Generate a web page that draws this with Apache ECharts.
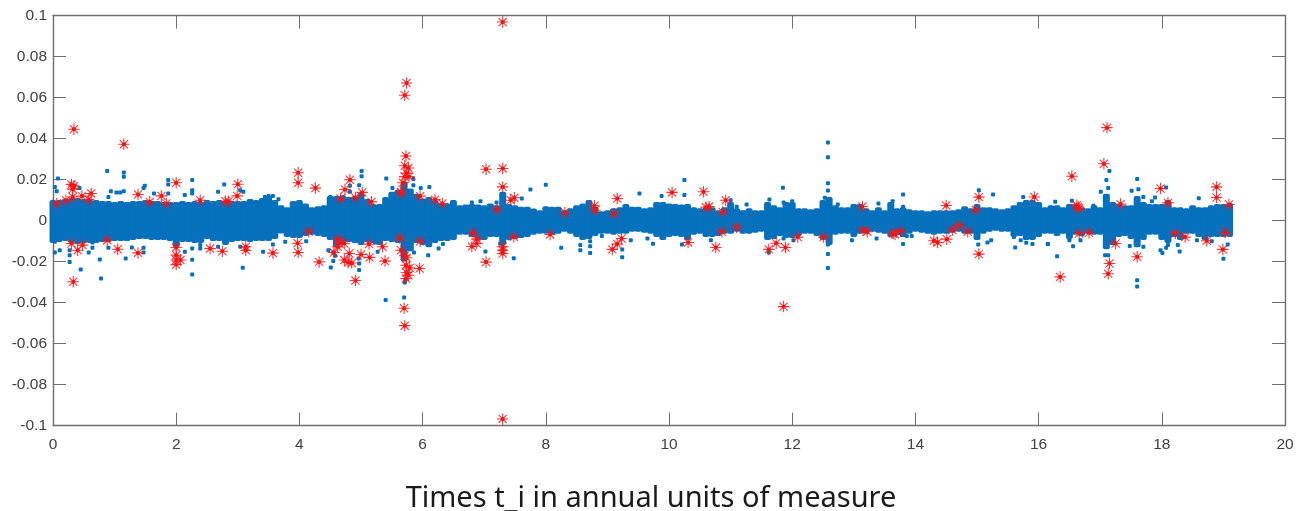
<!DOCTYPE html>
<html>
<head>
<meta charset="utf-8">
<style>html,body{margin:0;padding:0;background:#fff}#c{width:1305px;height:511px}</style>
<script src="https://cdn.jsdelivr.net/npm/echarts@6/dist/echarts.min.js"></script>
</head>
<body>
<div id="c"></div>
<script>
const xLabelStep = 2;
const yLabelStep = 0.02;
const chartCaption = 'Times t_i in annual units of measure';

// sampled envelope of the dense blue mass, one sample per 0.1 year, in thousandths
const bandUpper = [
10,10,10.5,11,11,10.5,10,10,9.5,9.5,
9,9.5,9,9.5,9.5,10,9.5,9.5,9,9,
9,9.5,9,9.5,9,10,9.5,10,9.5,9.5,
9.5,9.5,10.5,10,11,12,10,7.5,6.5,9.5,
10,8.3,6.5,7,7.5,12,12,12.3,11.5,12,
13.5,10.5,8,8,11.5,14,15,19,15.6,13,
10.7,11.5,10,8.3,8.3,10,7.5,7.8,8,7.8,
7.5,8.3,7.5,14,8,7.5,6.7,6.7,5.9,5,
7,6.7,6.7,5,6,7.5,8.3,10,6.7,4.5,
5,6,6.5,8,6.7,6.7,6,6.5,9,9,
8.3,8,7.8,8,6.5,6,6.5,6.5,5,6.5,
9,6,5,6,5,5,9,7.5,6.5,9,
9,6,6,5.5,6,10,11.5,7.5,6.5,6.5,
8,8,6,5,6.5,5,9,6,6.5,5.5,
5,5,4.5,5,5,5,5,5.5,7,6,
8,6.5,6.5,6,5.5,6,7.5,9,10,10,
9,6.5,7.5,7.5,6.5,8,8,6.5,6,7.5,
6.5,13,9,8,7.5,7.5,12,9,8,8,
8,10,6.5,6.5,6,7.5,6.5,6.5,7.5,8,
8,8.5];
const bandLower = [
11,10.5,10,11,11.5,11,11,11,10.5,10.5,
10,10,10,9.5,9,9,9.5,9.5,9.5,10,
13,10.5,10.5,11,11,9,10,10,12,10.5,
10,10,10.5,10,10,10,9,6.3,8,8.5,
8.5,7.5,7,7.5,8,9.5,13,12,10.5,11,
12,10.5,11,12,10,10.5,11,20,15,11,
12,13,11,10,10,9.5,7,7,8,9.5,
9.5,8,8,12,9.5,9,8.5,8,7,6.5,
6.5,7,6.5,5.5,6.5,8,9.5,9,7.5,6.5,
6.5,7,6.5,6.5,5.5,5.5,6,6.5,8,9.5,
8,7.5,8,9.5,7,6.5,8,8,7.5,6.5,
6.5,5.5,6.5,6.5,6,5.5,9.5,9,7.5,8.5,
8.5,7.5,6.5,6.5,7.5,9.5,12,7,6.5,6.5,
8,6.5,6.5,5.5,6,6.5,8,7,8,6.5,
5.5,6,6.5,7,6.5,6.5,6,5.5,6.5,6.5,
9.5,6.5,5.5,5,5.5,5.5,8,7.5,9.5,9.5,
8,6.5,6.5,7.5,6.5,9,7,7.5,6.5,7,
7,14,12,8,7.5,9,13,9.5,7,7,
9.5,11,8,9.5,6.5,6.5,8,9.5,8,8,
8,8];

// isolated blue points
const blueTimes = [
.88,1.15,1.15,.08,.03,.43,.06,.94,1.03,1.09,1.15,.90,1.49,1.47,1.87,1.87,2.26,1.64,1.87,2.26,2.26,2.14,2.78,2.68,3.04,3.09,
.03,.11,.03,.27,.27,.27,.64,.58,.64,.45,.76,.78,1.18,.90,1.28,1.47,1.47,2.26,2.26,2.14,2.26,2.39,2.39,3.08,2.68,3.04,
5.01,5.01,5.41,4.82,4.97,5.51,5.97,6.11,5.85,5.85,3.44,3.5,3.57,3.66,4.5,4.82,
3.41,3.57,3.77,4.11,4.47,4.55,4.51,4.55,4.58,4.97,4.96,4.97,5.27,5.23,5.71,6.09,6.26,6.33,5.86,5.40,5.70,5.72,5.74,
7.75,8.0,9.52,6.8,6.94,7.2,7.61,7.02,7.48,8.25,8.56,8.56,8.72,8.72,8.72,9.24,9.24,8.91,9.65,9.38,7.26,
10.25,10.25,9.88,11.85,11.86,12.0,11.63,12.58,12.58,12.58,12.58,12.53,11.26,11.1,11.0,12.74,
9.74,10.21,10.68,11.62,12.58,12.58,12.58,11.86,12.02,
13.8,15.03,15.26,13.4,13.63,13.8,15.75,13.8,13.37,13.86,13.94,12.97,15.02,15.17,15.23,15.62,15.71,15.8,15.9,16.15,15.6,
17.15,17.1,17.01,17.13,17.6,17.51,17.62,17.89,17.84,18.6,18.07,16.54,16.27,16.89,17.7,
16.15,16.3,16.56,16.5,16.68,17.08,17.13,17.48,17.6,17.6,17.7,17.98,18.01,18.07,18.1,18.26,18.29,19.0,19.07,18.57,18.81];
const blueValues = [
.0241,.0234,.0213,.0205,.0164,.0159,.0143,.0143,.0137,.0137,.0143,.0115,.0169,.0159,.0197,.0176,.0198,.0132,.0132,.0148,.0132,.0124,.0176,.014,.0148,.014,
-.0104,-.0145,-.0156,-.0145,-.0169,-.0203,-.0107,-.0156,-.0133,-.0239,-.019,-.0283,-.0185,-.0133,-.0132,-.0133,-.0156,-.0192,-.0263,-.0153,-.0137,-.0137,-.012,-.0231,-.0128,-.0128,
.0241,.0216,.0205,.0169,.0172,.0159,.0159,.0164,.0172,.0202,.0115,.012,.012,.0104,.0115,.014,
-.0153,-.0117,-.0104,-.0101,-.0145,-.0156,-.0229,-.0197,-.0172,-.0242,-.0185,-.021,-.0153,-.0107,-.0302,-.0169,-.0137,-.0115,-.0156,-.0388,-.0376,-.029,-.026,
.0151,.0174,.0132,.0088,.0094,.0088,.0107,-.0151,-.0184,-.0133,-.012,-.0145,-.0125,-.0158,-.0101,-.0141,-.0179,-.0075,-.0088,-.0096,-.0114,
.0197,.0124,.012,.016,.0088,.0094,.0102,.038,.0308,.0182,.0146,.0111,.0078,.0067,.0099,.0078,
-.0114,-.0117,-.0096,-.0156,-.0117,-.0163,-.0232,-.0088,-.0096,
.0127,.0148,.0127,.0083,.0094,.0067,.0115,-.0115,-.0088,-.0075,-.0075,-.0096,-.0117,-.0107,-.0096,-.0132,-.0096,-.0109,-.0115,-.0115,-.008,
.0241,.0197,.014,.0159,.0203,.0145,.0153,.0112,.0094,.0109,.0161,.0096,.0091,.0072,.0115,
-.0115,-.0174,-.0125,-.0096,-.0096,-.0169,-.0169,-.0124,-.0291,-.0322,-.0128,-.0145,-.0158,-.0133,-.012,-.012,-.0151,-.0187,-.0117,-.0096,-.0101];

// red starred points
const redTimes = [
.30,.34,.32,.06,.21,.32,.47,.58,.62,.33,.30,.48,.40,.88,1.05,1.38,1.38,1.57,1.76,1.84,2.0,2.39,2.80,2.85,3.0,2.99,
2.0,2,2,2.07,2.0,2.55,2.75,3.13,3.13,.34,1.15,
3.98,3.98,4.26,4.74,4.82,4.67,4.91,5.02,5.17,5.65,5.96,6.2,6.32,
5.73,5.71,5.77,5.74,5.78,5.68,5.65,5.71,5.74,5.71,
4.15,3.97,3.98,3.57,4.32,4.63,4.65,4.73,4.62,4.56,5.13,5.35,5.14,5,4.81,5.39,4.73,4.79,4.85,4.91,
5.63,5.65,5.71,5.74,5.73,5.79,5.95,5.74,5.77,5.73,5.96,5.70,5.71,7.3,7.3,
7.03,7.3,7.3,7.43,7.49,7.21,8.31,8.79,8.8,9.11,9.16,
6.82,6.88,6.88,6.8,7.03,7.3,7.3,7.3,7.48,8.07,9.23,9.16,9.08,
10.05,10.56,10.6,10.65,10.87,10.92,10.86,11.1,10.31,10.76,11.62,11.74,11.89,12.09,12.51,11.86,
13.14,14.5,14.98,15.03,15.93,13.15,13.22,13.64,13.67,13.76,14.3,14.36,14.51,14.6,14.71,14.85,15.03,
16.35,16.54,16.62,16.66,16.64,16.66,16.82,17.11,17.06,17.33,17.15,17.13,17.25,17.6,17.98,18.1,18.22,18.38,18.73,19.03,18.99,18.89,18.89,19.09];
const redValues = [
.0176,.0169,.0153,.0083,.0099,.0115,.0119,.0102,.0132,-.0299,-.0112,-.012,-.0145,-.0096,-.014,-.0158,.0127,.0091,.012,.0083,.0184,.0099,.0094,.0094,.0177,.012,
-.0132,-.0169,-.0193,-.0193,-.0215,-.0137,-.015,-.0128,-.0145,.0445,.0372,
.0233,.0184,.0158,.0151,.0199,.0107,.0112,.0137,.0091,.0137,.0119,.0102,.0083,
.0315,.0267,.0256,.0231,.0214,.0184,.0139,.0214,.0671,.0611,
-.0055,-.0111,-.0156,-.0159,-.0202,-.0091,-.0112,-.0112,-.0128,-.0156,-.0115,-.0128,-.018,-.0166,-.0161,-.0198,-.0193,-.0205,-.0207,-.0293,
-.0085,-.0145,-.0172,-.0182,-.0218,-.0231,-.0234,-.0254,-.0267,-.0283,-.0101,-.0428,-.0513,.0968,-.0968,
.025,.0254,.0164,.0099,.0111,.0055,.0039,.0072,.005,.0033,.0107,
-.006,-.0091,-.0112,-.0127,-.0203,-.0128,-.0145,-.0161,-.008,-.0068,-.0088,-.0115,-.0141,
.0137,.014,.0065,.0068,.0042,.0099,-.0055,-.0034,-.0107,-.0132,-.0141,-.0111,-.0132,-.0081,-.0081,-.042,
.0068,.0073,.0052,.0114,.0115,-.0047,-.0055,-.0063,-.0068,-.0052,-.0099,-.0107,-.0091,-.0047,-.0024,-.0055,-.0164,
-.0275,.0216,.0075,.0059,.0067,-.0063,-.006,.0453,.0277,.008,-.021,-.026,-.0112,-.0177,.0156,.0086,-.0063,-.0081,-.0099,-.0059,-.0141,.0164,.0112,.0078];

const bandRows = bandUpper.map((u, i) => [i / 10, u / 1000, -bandLower[i] / 1000]);
const bluePairs = blueTimes.map((t, i) => [t, blueValues[i]]);
const redPairs = redTimes.map((t, i) => [t, redValues[i]]);

const inkGray = '#404040', frameGray = '#6e6e6e', matlabBlue = '#0570BB';
const asterisk = 'path://M12 0L12 24M0 12L24 12M3.5 3.5L20.5 20.5M3.5 20.5L20.5 3.5';

const fmtY = v => String(+(+v).toFixed(2));
function xAx(pos, show) {
  return {type:'value', min:0, max:20, interval:xLabelStep, position:pos,
    axisLine:{show:true, onZero:false, lineStyle:{color:frameGray, width:1.4}},
    axisTick:{show:true, inside:true, length:13, lineStyle:{color:frameGray, width:1}},
    splitLine:{show:false},
    axisLabel:{show:show, color:inkGray, fontSize:15.5, fontFamily:'Liberation Sans', margin:11, hideOverlap:false}};
}
function yAx(pos, show) {
  return {type:'value', min:-0.1, max:0.1, interval:yLabelStep, position:pos,
    axisLine:{show:true, onZero:false, lineStyle:{color:frameGray, width:1.4}},
    axisTick:{show:true, inside:true, length:13, lineStyle:{color:frameGray, width:1}},
    splitLine:{show:false},
    axisLabel:{show:show, color:inkGray, fontSize:15.5, fontFamily:'Liberation Sans', margin:6, formatter:fmtY, hideOverlap:false}};
}

const chart = echarts.init(document.getElementById('c'), null, {renderer:'canvas'});
chart.setOption({
  animation:false,
  backgroundColor:'#fff',
  title:{text:chartCaption, left:646, top:479, textAlign:'center',
    textStyle:{fontFamily:'Noto Sans', fontWeight:'normal', fontSize:29, color:'#1a1a1a'}},
  grid:{left:53, right:20, top:15.5, bottom:85.5},
  xAxis:[xAx('bottom', true), xAx('top', false)],
  yAxis:[yAx('left', true), yAx('right', false)],
  series:[
    {type:'custom', silent:true, clip:false, z:2, data:bandRows, encode:{x:0, y:[1,2]},
     renderItem:function(p, api){
       const a = api.coord([api.value(0), api.value(1)]);
       const b = api.coord([api.value(0), api.value(2)]);
       return {type:'rect', shape:{x:a[0]-3.5, y:a[1], width:7, height:b[1]-a[1], r:2},
         style:{fill:matlabBlue}};
     }},
    {type:'scatter', silent:true, z:3, data:bluePairs, symbol:'roundRect', symbolSize:4,
     itemStyle:{color:matlabBlue, opacity:1}},
    {type:'scatter', silent:true, z:4, data:redPairs, symbol:'circle', symbolSize:4,
     itemStyle:{color:'#C0101C', opacity:1}},
    {type:'scatter', silent:true, z:5, data:redPairs, symbol:asterisk, symbolSize:11.5,
     itemStyle:{color:'none', borderColor:'rgba(255,20,20,0.85)', borderWidth:1.1, opacity:1}}
  ]
});
</script>
</body>
</html>
